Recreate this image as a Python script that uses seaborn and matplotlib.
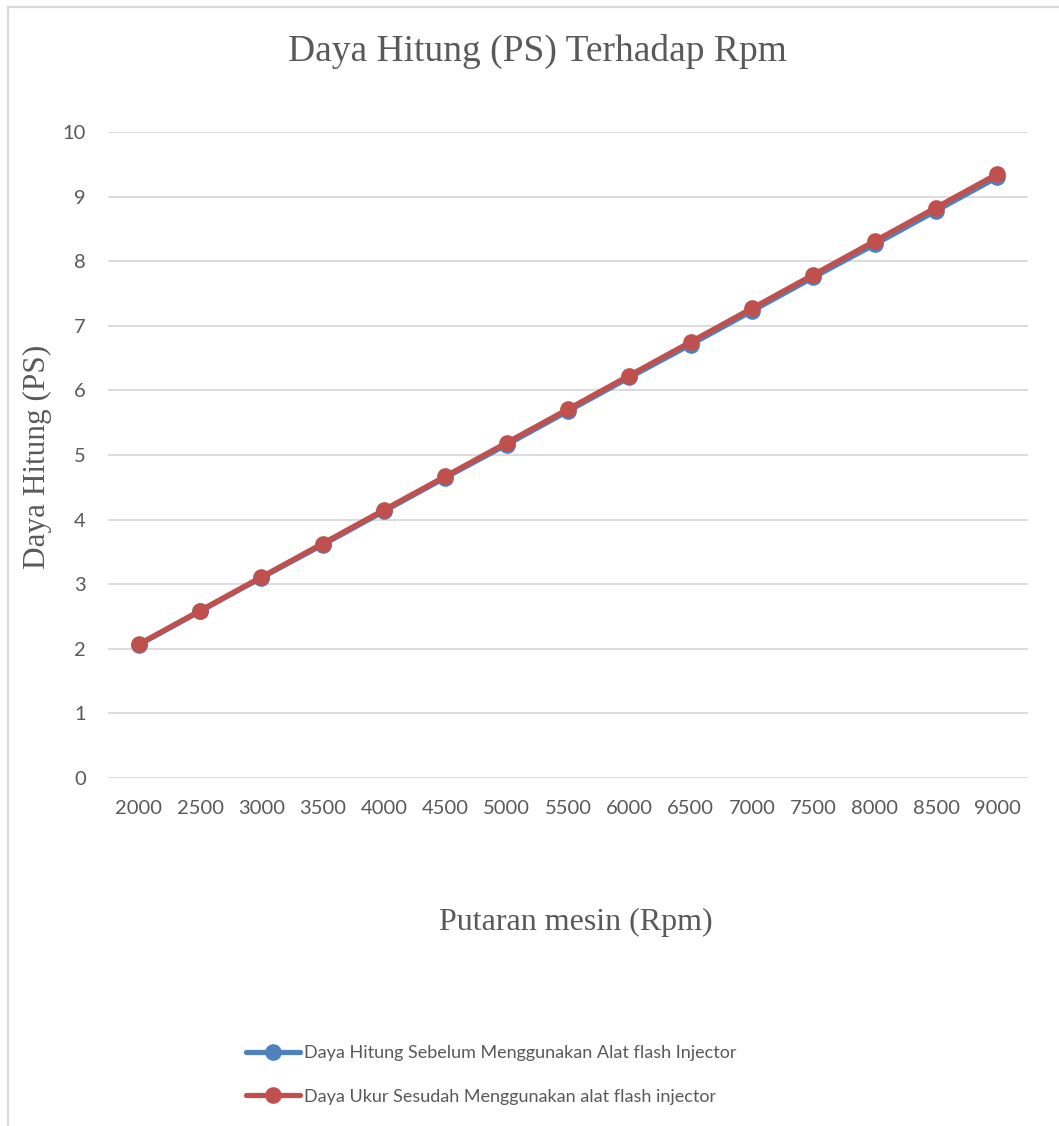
import matplotlib
matplotlib.use("Agg")
import matplotlib.pyplot as plt
from matplotlib.lines import Line2D
import seaborn as sns
import pandas as pd

# Engine speed (rpm) and computed power (PS)
rpm = [2000, 2500, 3000, 3500, 4000, 4500, 5000, 5500, 6000, 6500, 7000, 7500, 8000, 8500, 9000]
daya_sebelum = [2.06, 2.58, 3.10, 3.61, 4.13, 4.65, 5.16, 5.68, 6.20, 6.71, 7.23, 7.75, 8.26, 8.78, 9.30]
daya_sesudah = [2.07, 2.59, 3.11, 3.63, 4.15, 4.67, 5.19, 5.71, 6.23, 6.75, 7.27, 7.79, 8.31, 8.83, 9.35]

label_sebelum = "Daya Hitung Sebelum Menggunakan Alat flash Injector"
label_sesudah = "Daya Ukur Sesudah Menggunakan alat flash injector"
yticks = [0, 1, 2, 3, 4, 5, 6, 7, 8, 9, 10]

BLUE = "#4F81BD"
RED = "#C0504D"
GRID = "#D9D9D9"
TEXT = "#595959"
SANS = "Lato"
SERIF = "Liberation Serif"

sns.set_theme(style="white")
plt.rcParams["font.family"] = [SANS, "DejaVu Sans"]

df = pd.DataFrame({"rpm": rpm, "sebelum": daya_sebelum, "sesudah": daya_sesudah})

fig = plt.figure(figsize=(10.59, 11.26), dpi=100)
ax = fig.add_axes([108 / 1059, 1 - 778 / 1126, (1028 - 108) / 1059, (778 - 132) / 1126])

line_kw = dict(linewidth=3.8, marker="o", markersize=12, markeredgewidth=0)
sns.lineplot(data=df, x="rpm", y="sebelum", color=BLUE, ax=ax, label=label_sebelum, **line_kw)
sns.lineplot(data=df, x="rpm", y="sesudah", color=RED, ax=ax, label=label_sesudah, **line_kw)

ax.set_xlim(rpm[0] - 250, rpm[-1] + 250)
ax.set_ylim(yticks[0], yticks[-1])
ax.set_xticks(rpm)
ax.set_xticklabels([str(r) for r in rpm])
ax.set_yticks(yticks)
ax.set_yticklabels([str(t) for t in yticks])
ax.yaxis.grid(True, color=GRID, linewidth=1.3)
ax.xaxis.grid(False)
for s in ax.spines.values():
    s.set_visible(False)
ax.tick_params(axis="both", length=0, labelsize=14.5, colors=TEXT)
ax.tick_params(axis="x", pad=16)
ax.tick_params(axis="y", pad=16)
ax.set_xlabel("")
ax.set_ylabel("")
ax.get_legend().remove()

fig.text(537 / 1059, 1 - 51 / 1126, "Daya Hitung (PS) Terhadap Rpm", ha="center", va="center",
         fontsize=27, color=TEXT, family=SERIF)
fig.text(576 / 1059, 1 - 922 / 1126, "Putaran mesin (Rpm)", ha="center", va="center",
         fontsize=23, color=TEXT, family=SERIF)
fig.text(37 / 1059, 1 - 457 / 1126, "Daya Hitung (PS)", ha="center", va="center",
         rotation=90, fontsize=22.5, color=TEXT, family=SERIF)

handles = [
    Line2D([], [], color=BLUE, linewidth=3.8, marker="o", markersize=12, markeredgewidth=0),
    Line2D([], [], color=RED, linewidth=3.8, marker="o", markersize=12, markeredgewidth=0),
]
leg = fig.legend(handles, [label_sebelum, label_sesudah], loc="center",
                 bbox_to_anchor=(491 / 1059, 1 - 1075 / 1126), frameon=False, fontsize=13,
                 handlelength=3.0, handletextpad=0.2, labelspacing=1.5, labelcolor=TEXT)

# chart area frame (top and left edges)
fig.add_artist(Line2D([8 / 1059, 8 / 1059], [0, 1 - 7 / 1126], transform=fig.transFigure,
                      color=GRID, linewidth=1.6))
fig.add_artist(Line2D([8 / 1059, 1], [1 - 7 / 1126, 1 - 7 / 1126], transform=fig.transFigure,
                      color=GRID, linewidth=1.6))

fig.savefig("out.png", dpi=100, facecolor="white")
